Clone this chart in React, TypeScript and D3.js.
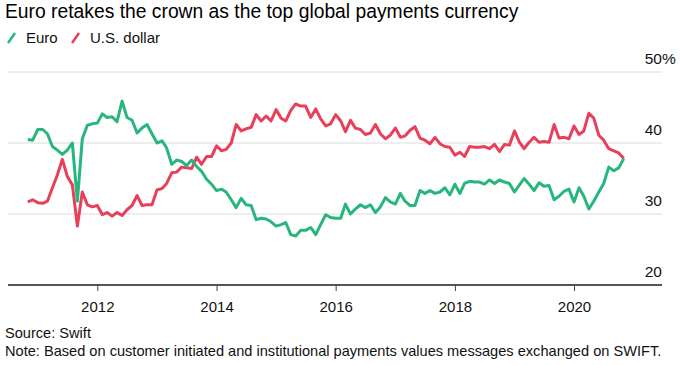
import { useEffect, useRef } from 'react';
import * as d3 from 'd3';

// monthly share of SWIFT payments value, Nov 2010 .. Nov 2020
const startMonth = new Date(2010, 10, 1);

const euro = [
  40.5, 40.4, 41.9, 41.9, 41.3, 39.5, 39.0, 38.4, 39.0, 40.0,
  31.8, 40.6, 42.5, 42.7, 42.8, 44.1, 43.6, 43.7, 43.0, 45.9,
  43.6, 43.2, 41.4, 42.1, 42.6, 41.3, 40.0, 40.3, 39.3, 37.0,
  37.6, 37.4, 36.8, 37.6, 36.7, 36.0, 34.9, 34.2, 33.3, 33.5,
  33.1, 32.0, 30.9, 32.2, 31.3, 31.2, 29.2, 29.4, 29.3, 28.9,
  28.3, 28.5, 28.8, 27.1, 26.9, 27.7, 27.7, 28.1, 27.1, 28.5,
  29.9, 29.5, 29.4, 29.4, 31.4, 30.0, 30.7, 31.3, 30.9, 31.3,
  30.2, 31.0, 32.3, 31.7, 31.4, 32.9, 31.8, 31.2, 31.2, 33.3,
  32.9, 33.3, 32.9, 33.1, 33.7, 32.7, 34.2, 32.9, 34.3, 34.6,
  34.5, 34.5, 34.2, 34.8, 34.3, 34.8, 34.5, 34.3, 33.1, 34.1,
  35.0, 34.2, 33.3, 34.4, 33.9, 34.0, 32.0, 32.5, 33.2, 33.5,
  31.7, 33.7, 32.5, 30.7, 31.8, 33.1, 34.3, 36.6, 36.1, 36.5,
  37.8,
];

const usd = [
  31.7, 32.0, 31.6, 31.5, 31.8, 33.7, 35.5, 37.7, 35.3, 34.1,
  28.3, 33.1, 31.3, 31.0, 31.2, 29.9, 30.2, 29.7, 30.2, 29.8,
  30.6, 31.2, 32.6, 31.2, 31.3, 31.3, 33.4, 33.6, 34.3, 35.8,
  35.9, 36.6, 36.5, 36.4, 38.0, 37.0, 38.1, 38.1, 39.6, 38.9,
  39.1, 40.0, 42.6, 41.7, 42.0, 42.2, 44.0, 43.1, 43.8, 43.1,
  44.7, 43.5, 43.1, 44.6, 45.5, 45.2, 45.2, 43.6, 44.8, 43.4,
  42.4, 42.7, 44.0, 43.1, 41.6, 43.2, 42.1, 41.9, 41.2, 41.4,
  42.6, 41.3, 40.6, 41.1, 42.1, 40.8, 41.0, 41.8, 42.3, 40.7,
  40.4, 39.9, 40.8, 39.9, 39.5, 39.4, 38.3, 38.7, 38.1, 39.5,
  39.4, 39.4, 39.5, 39.2, 39.8, 38.8, 39.8, 39.7, 41.7, 40.1,
  39.2, 40.1, 40.8, 40.1, 40.2, 40.1, 42.6, 40.7, 40.8, 40.6,
  42.4, 41.2, 41.7, 44.2, 43.5, 41.1, 40.4, 39.2, 38.9, 38.6,
  37.8,
];

const yTicks = [20, 30, 40, 50];
const xTickYears = [2012, 2014, 2016, 2018, 2020];

const width = 680, height = 365;
const [gridLeft, gridRight] = [8, 662];
const green = '#27b67d', red = '#e8405b';
const font = '"Liberation Sans", Arial, sans-serif';

function App() {
  const node = useRef<SVGSVGElement>(null);

  useEffect(() => {
    if (!node.current) return;
    const svg = d3.select(node.current);
    svg.selectAll('*').remove();

    const dates = d3.timeMonth.range(startMonth, d3.timeMonth.offset(startMonth, euro.length));

    const x = d3.scaleTime()
      .domain([new Date(2012, 0, 1), new Date(2020, 0, 1)])
      .range([97.3, 574]);
    const y = d3.scaleLinear().domain([20, 50]).range([285, 72]);

    // gridlines
    svg.append('g')
      .selectAll('line')
      .data(yTicks.filter(d => d !== 20))
      .enter()
      .append('line')
      .attr('x1', gridLeft).attr('x2', gridRight)
      .attr('y1', d => y(d)).attr('y2', d => y(d))
      .attr('stroke', '#dcdcdc').attr('stroke-width', 1);

    // y labels, right side, sitting on the gridline
    const yl = svg.append('g').attr('font-family', font).attr('font-size', 15.5).attr('fill', '#111');
    yl.selectAll('text')
      .data(yTicks)
      .enter()
      .append('text')
      .attr('x', gridRight)
      .attr('y', d => y(d) - 8)
      .attr('text-anchor', 'end')
      .text(d => d);
    yl.append('text').attr('x', gridRight).attr('y', y(50) - 8).text('%');

    // x axis
    const xAxis = svg.append('g')
      .attr('transform', `translate(0,${y(20)})`)
      .call(d3.axisBottom(x)
        .tickValues(xTickYears.map(yr => new Date(yr, 0, 1)))
        .tickFormat(d3.timeFormat('%Y') as any)
        .tickSize(6)
        .tickPadding(10));
    xAxis.select('.domain').remove();
    xAxis.selectAll('.tick line').attr('stroke', '#444');
    xAxis.selectAll('.tick text')
      .attr('font-family', font).attr('font-size', 15).attr('fill', '#111');
    xAxis.insert('line', ':first-child')
      .attr('x1', gridLeft).attr('x2', gridRight)
      .attr('stroke', '#555').attr('stroke-width', 2);

    const line = d3.line<number>()
      .x((_, i) => x(dates[i]))
      .y(d => y(d));

    svg.append('path').datum(usd)
      .attr('fill', 'none').attr('stroke', red).attr('stroke-width', 3)
      .attr('stroke-linejoin', 'round').attr('d', line);
    svg.append('path').datum(euro)
      .attr('fill', 'none').attr('stroke', green).attr('stroke-width', 3)
      .attr('stroke-linejoin', 'round').attr('d', line);

    // title + legend
    svg.append('text').attr('x', 5).attr('y', 18)
      .attr('font-family', font).attr('font-size', 19.3).attr('fill', '#000')
      .text('Euro retakes the crown as the top global payments currency');

    const legend = [
      { name: 'Euro', color: green, x: 8 },
      { name: 'U.S. dollar', color: red, x: 72 },
    ];
    const lg = svg.append('g').attr('font-family', font).attr('font-size', 15).attr('fill', '#111');
    legend.forEach(l => {
      lg.append('line')
        .attr('x1', l.x).attr('y1', 43).attr('x2', l.x + 7).attr('y2', 33)
        .attr('stroke', l.color).attr('stroke-width', 2.5);
      lg.append('text').attr('x', l.x + 18).attr('y', 43).text(l.name);
    });

    const notes = svg.append('g').attr('font-family', font).attr('font-size', 14.6).attr('fill', '#111');
    notes.append('text').attr('x', 5).attr('y', 338).text('Source: Swift');
    notes.append('text').attr('x', 5).attr('y', 356)
      .text('Note: Based on customer initiated and institutional payments values messages exchanged on SWIFT.');
  }, [node]);

  return (
    <svg ref={node} width={width} height={height}
      style={{ position: 'absolute', left: 0, top: 0, background: '#fff' }} />
  );
}

export default App;
